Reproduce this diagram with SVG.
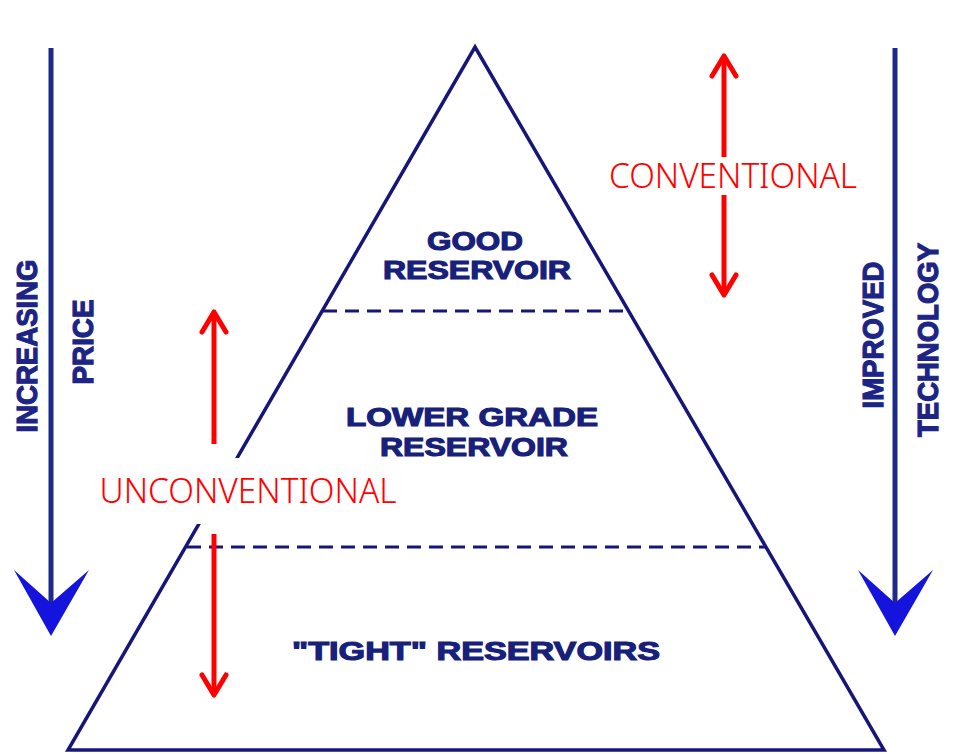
<svg xmlns="http://www.w3.org/2000/svg" width="976" height="754" viewBox="0 0 976 754">
<style>
.lbl{font-family:"Liberation Sans",Arial,sans-serif;font-weight:bold;font-size:25px;fill:#17207a;stroke:#17207a;stroke-width:1.1;text-anchor:middle}
.side{font-family:"Liberation Sans",Arial,sans-serif;font-weight:bold;font-size:30px;fill:#1c2486;stroke:#1c2486;stroke-width:1.2;text-anchor:middle}
.red{font-family:"Noto Sans","Open Sans",sans-serif;font-weight:300;font-size:35px;fill:#ff0000;text-anchor:middle}
.edge{fill:none;stroke:#16167a;stroke-width:3.5;stroke-linejoin:miter}
.dash{stroke:#16167a;stroke-width:3;stroke-dasharray:14 8}
.bline{stroke:#1e2a8a;stroke-width:5}
.bhead{fill:#1414dc}
.rline{stroke:#ff0000;stroke-width:5}
.rhead{fill:none;stroke:#ff0000;stroke-width:5;stroke-linecap:round;stroke-linejoin:round}
</style>
<rect width="976" height="754" fill="#ffffff"/>
<g id="pyramid">
<polygon class="edge" points="475,47 884,750 68,750"/>
<line class="dash" x1="323" y1="311" x2="628" y2="311"/>
<line class="dash" x1="187" y1="547" x2="765" y2="547"/>
</g>
<g id="good-reservoir">
<text class="lbl" x="475" y="250" textLength="96" lengthAdjust="spacingAndGlyphs">GOOD</text>
<text class="lbl" x="477" y="279" textLength="188" lengthAdjust="spacingAndGlyphs">RESERVOIR</text>
</g>
<g id="lower-grade">
<text class="lbl" x="472" y="426" textLength="252" lengthAdjust="spacingAndGlyphs">LOWER GRADE</text>
<text class="lbl" x="474" y="456" textLength="188" lengthAdjust="spacingAndGlyphs">RESERVOIR</text>
</g>
<g id="tight-reservoirs">
<text class="lbl" x="476" y="660" textLength="368" lengthAdjust="spacingAndGlyphs">"TIGHT" RESERVOIRS</text>
</g>
<g id="connectors">
<g id="price-arrow">
<line class="bline" x1="51" y1="48" x2="51" y2="612"/>
<polygon class="bhead" points="14,570 51,636 89,570 51,603"/>
</g>
<g id="technology-arrow">
<line class="bline" x1="895" y1="48" x2="895" y2="612"/>
<polygon class="bhead" points="858,570 895,636 933,570 895,603"/>
</g>
<g id="conventional-arrow">
<line class="rline" x1="724" y1="58" x2="724" y2="157"/>
<line class="rline" x1="724" y1="195" x2="724" y2="292"/>
<polyline class="rhead" points="712,76 724,56 736,76"/>
<polyline class="rhead" points="712,275 724,295 736,275"/>
</g>
<g id="unconventional-arrow">
<line class="rline" x1="214" y1="313" x2="214" y2="444"/>
<line class="rline" x1="214" y1="534" x2="214" y2="693"/>
<polyline class="rhead" points="202,332 214,312 226,332"/>
<polyline class="rhead" points="202,675 214,695 226,675"/>
</g>
</g>
<g id="increasing-price">
<text class="side" x="37" y="346" transform="rotate(-90 37 346)" textLength="173" lengthAdjust="spacingAndGlyphs">INCREASING</text>
<text class="side" x="93" y="342" transform="rotate(-90 93 342)" textLength="85" lengthAdjust="spacingAndGlyphs">PRICE</text>
</g>
<g id="improved-technology">
<text class="side" x="883" y="335" transform="rotate(-90 883 335)" textLength="147" lengthAdjust="spacingAndGlyphs">IMPROVED</text>
<text class="side" x="938" y="340" transform="rotate(-90 938 340)" textLength="194" lengthAdjust="spacingAndGlyphs">TECHNOLOGY</text>
</g>
<g id="conventional">
<text class="red" x="733" y="188" textLength="248" lengthAdjust="spacingAndGlyphs">CONVENTIONAL</text>
</g>
<g id="unconventional">
<rect x="96" y="458" width="306" height="66" fill="#ffffff"/>
<text class="red" x="248" y="503" textLength="297" lengthAdjust="spacingAndGlyphs">UNCONVENTIONAL</text>
</g>
</svg>
